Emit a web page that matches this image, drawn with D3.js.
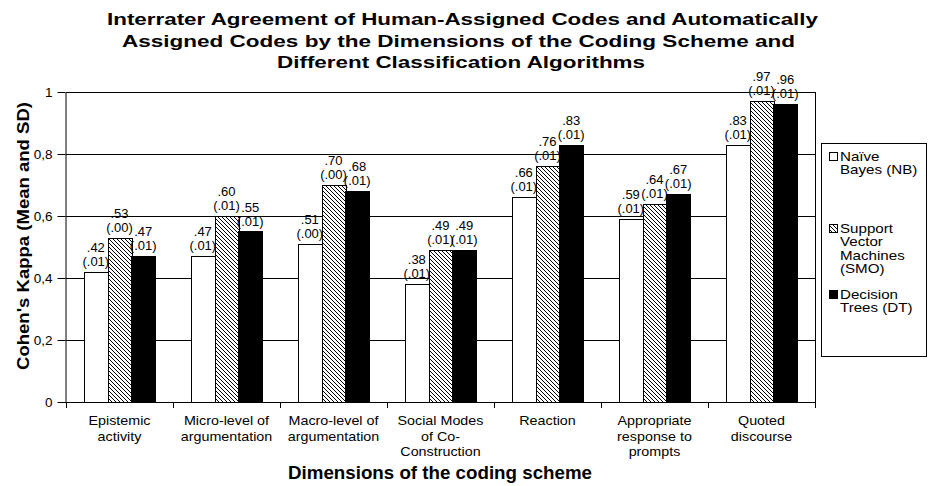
<!DOCTYPE html>
<html>
<head>
<meta charset="utf-8">
<script src="https://cdn.jsdelivr.net/npm/d3@7"></script>
<style>
body { margin: 0; background: #fff; }
svg { font-family: "Liberation Sans", Arial, sans-serif; }
</style>
</head>
<body>
<svg id="chart" width="929" height="486"></svg>
<script>
// categories (x axis), with their line breaks
var categories = ["Epistemic activity", "Micro-level of argumentation", "Macro-level of argumentation",
  "Social Modes of Co-Construction", "Reaction", "Appropriate response to prompts", "Quoted discourse"];
var categoryLines = [["Epistemic", "activity"], ["Micro-level of", "argumentation"], ["Macro-level of", "argumentation"],
  ["Social Modes", "of Co-", "Construction"], ["Reaction"], ["Appropriate", "response to", "prompts"], ["Quoted", "discourse"]];

var series = ["NB", "SMO", "DT"];
var seriesLines = [["Naïve", "Bayes (NB)"], ["Support", "Vector", "Machines", "(SMO)"], ["Decision", "Trees (DT)"]];

// kappa means and SDs
var nbMean  = [0.42, 0.47, 0.51, 0.38, 0.66, 0.59, 0.83];
var smoMean = [0.53, 0.60, 0.70, 0.49, 0.76, 0.64, 0.97];
var dtMean  = [0.47, 0.55, 0.68, 0.49, 0.83, 0.67, 0.96];
var nbSd  = [0.01, 0.01, 0.00, 0.01, 0.01, 0.01, 0.01];
var smoSd = [0.00, 0.01, 0.00, 0.01, 0.01, 0.01, 0.01];
var dtSd  = [0.01, 0.01, 0.01, 0.01, 0.01, 0.01, 0.01];

var yTicks = [0, 0.2, 0.4, 0.6, 0.8, 1];

var means = {NB: nbMean, SMO: smoMean, DT: dtMean};
var sds = {NB: nbSd, SMO: smoSd, DT: dtSd};

var svg = d3.select("#chart");

// the original text is a bit wider than Liberation Sans, stretch it
function widen(sel, k) {
  sel.each(function () {
    var w = this.getComputedTextLength();
    d3.select(this).attr("textLength", w * k).attr("lengthAdjust", "spacingAndGlyphs");
  });
}

// hatch for SMO
var defs = svg.append("defs");
defs.append("pattern")
  .attr("id", "hatch")
  .attr("patternUnits", "userSpaceOnUse")
  .attr("width", 4).attr("height", 4)
  .call(function (p) {
    p.append("rect").attr("width", 4).attr("height", 4).attr("fill", "#fff");
    p.append("path").attr("d", "M0,0L4,4M-1,3L1,5M3,-1L5,1")
      .attr("stroke", "#000").attr("stroke-width", 1);
  });
var fills = {NB: "#fff", SMO: "url(#hatch)", DT: "#000"};

var plotL = 66, plotR = 815, plotT = 92, plotB = 402;

var x0 = d3.scaleBand().domain(categories).range([plotL, plotR]).padding(0);
var bw = x0.bandwidth();
var x1 = d3.scaleBand().domain(series).range([bw * 0.168, bw * 0.832]).padding(0);
var y = d3.scaleLinear().domain([0, 1]).range([plotB, plotT]);

var locale = d3.formatLocale({decimal: ",", thousands: ".", grouping: [3], currency: ["", ""]});
var tickFmt = locale.format("~g");
var valFmt = function (v) { return d3.format(".2f")(v).replace(/^0/, ""); };

// gridlines
svg.append("g").selectAll("line")
  .data(yTicks.filter(function (d) { return d > 0; }))
  .join("line")
  .attr("x1", plotL).attr("x2", plotR)
  .attr("y1", function (d) { return Math.round(y(d)) + 0.5; })
  .attr("y2", function (d) { return Math.round(y(d)) + 0.5; })
  .attr("stroke", "#000");

// right border of plot
svg.append("line")
  .attr("x1", plotR + 0.5).attr("x2", plotR + 0.5)
  .attr("y1", plotT).attr("y2", plotB + 5)
  .attr("stroke", "#000");

// y axis
var yAxis = svg.append("g")
  .attr("transform", "translate(" + (plotL - 0.5) + ",0)")
  .call(d3.axisLeft(y).tickValues(yTicks).tickFormat(tickFmt).tickSize(8).tickSizeOuter(0).tickPadding(5));
yAxis.selectAll("text").attr("font-size", 13.5).attr("font-family", "Liberation Sans, Arial, sans-serif").attr("fill", "#000");
yAxis.selectAll("line,path").attr("stroke", "#000");

// x axis line and tick marks at band boundaries
svg.append("line")
  .attr("x1", plotL - 8).attr("x2", plotR + 1)
  .attr("y1", plotB + 0.5).attr("y2", plotB + 0.5)
  .attr("stroke", "#000");
var bounds = d3.range(categories.length + 1).map(function (i) { return plotL + i * x0.step(); });
svg.append("g").selectAll("line")
  .data(bounds)
  .join("line")
  .attr("x1", function (d) { return Math.round(d) + 0.5; })
  .attr("x2", function (d) { return Math.round(d) + 0.5; })
  .attr("y1", plotB).attr("y2", plotB + 6)
  .attr("stroke", "#000");

// bars
var groups = svg.append("g").selectAll("g")
  .data(categories)
  .join("g")
  .attr("transform", function (d) { return "translate(" + x0(d) + ",0)"; });

groups.each(function (cat, ci) {
  var g = d3.select(this);
  series.forEach(function (s) {
    var v = means[s][ci];
    var bx = x1(s);
    g.append("rect")
      .attr("x", Math.round(bx) + 0.5)
      .attr("y", Math.round(y(v)) + 0.5)
      .attr("width", Math.round(x1.bandwidth()))
      .attr("height", Math.round(y(0)) - Math.round(y(v)))
      .attr("fill", fills[s])
      .attr("stroke", "#000")
      .attr("stroke-width", 1);
    var cx = bx + x1.bandwidth() / 2;
    g.append("text")
      .attr("x", cx).attr("y", y(v) - 20)
      .attr("text-anchor", "middle").attr("font-size", 13)
      .text(valFmt(v));
    g.append("text")
      .attr("x", cx).attr("y", y(v) - 6)
      .attr("text-anchor", "middle").attr("font-size", 13)
      .text("(" + valFmt(sds[s][ci]) + ")");
  });
  g.selectAll("text.cat")
    .data(categoryLines[ci])
    .join("text")
    .attr("class", "cat")
    .attr("text-anchor", "middle")
    .attr("font-size", 13.5)
    .attr("x", bw / 2)
    .attr("y", function (d, i) { return 425 + i * 15.5; })
    .text(function (d) { return d; })
    .call(widen, 1.06);
});

// legend
var legend = svg.append("g");
legend.append("rect")
  .attr("x", 821.5).attr("y", 143.5).attr("width", 105).attr("height", 213)
  .attr("fill", "#fff").attr("stroke", "#000");
var legendTop = [161, 233, 299];
series.forEach(function (s, i) {
  legend.append("rect")
    .attr("x", 829.5).attr("y", legendTop[i] - 8.5)
    .attr("width", 8).attr("height", 8)
    .attr("fill", fills[s]).attr("stroke", "#000");
  legend.selectAll("text.s" + i)
    .data(seriesLines[i])
    .join("text")
    .attr("class", "s" + i)
    .attr("font-size", 13.5)
    .attr("x", 840)
    .attr("y", function (d, j) { return legendTop[i] + j * 13.3; })
    .text(function (d) { return d; })
    .call(widen, 1.12);
});

// titles
var titleLines = [
  {t: "Interrater Agreement of Human-Assigned Codes and Automatically", x0: 107, x1: 818, y: 25},
  {t: "Assigned Codes by the Dimensions of the Coding Scheme and", x0: 122, x1: 795, y: 47},
  {t: "Different Classification Algorithms", x0: 277, x1: 645, y: 68}
];
svg.append("g").selectAll("text")
  .data(titleLines)
  .join("text")
  .attr("x", function (d) { return d.x0; })
  .attr("y", function (d) { return d.y; })
  .attr("font-size", 17).attr("font-weight", "bold")
  .attr("textLength", function (d) { return d.x1 - d.x0; })
  .attr("lengthAdjust", "spacingAndGlyphs")
  .text(function (d) { return d.t; });

svg.append("text")
  .attr("transform", "translate(29,370) rotate(-90)")
  .attr("font-size", 17).attr("font-weight", "bold")
  .attr("textLength", 268).attr("lengthAdjust", "spacingAndGlyphs")
  .text("Cohen's Kappa (Mean and SD)");

svg.append("text")
  .attr("x", 288).attr("y", 479)
  .attr("font-size", 18).attr("font-weight", "bold")
  .attr("textLength", 304).attr("lengthAdjust", "spacingAndGlyphs")
  .text("Dimensions of the coding scheme");
</script>
</body>
</html>
